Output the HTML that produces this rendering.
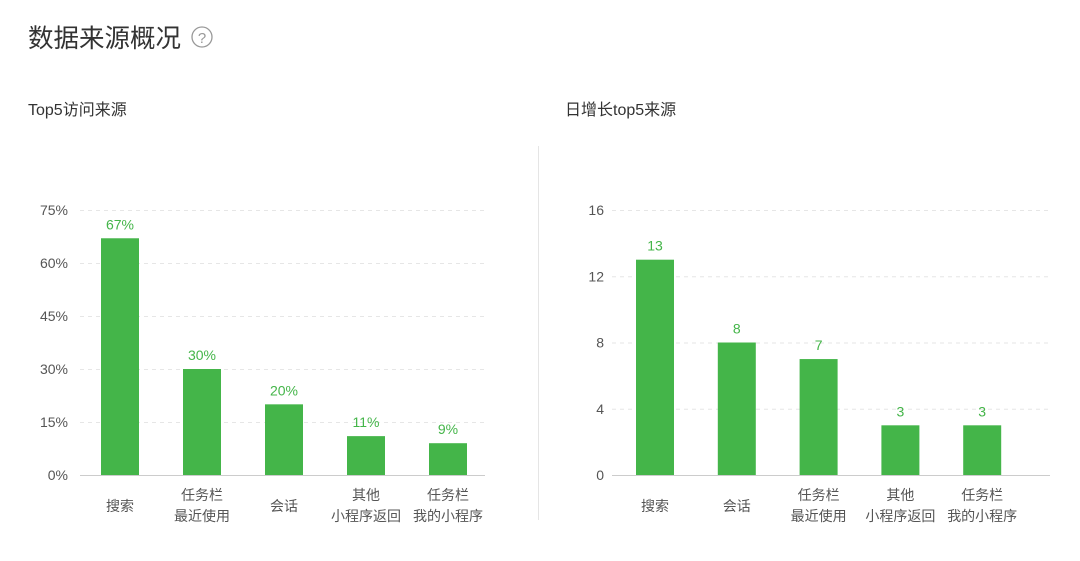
<!DOCTYPE html>
<html><head><meta charset="utf-8"><style>
body{margin:0;width:1080px;height:561px;background:#fff;overflow:hidden;font-family:"Liberation Sans","Noto Sans CJK SC",sans-serif;}
svg{position:absolute;left:0;top:0}
</style></head><body>
<svg id="s" width="1080" height="561">
<text x="28" y="47" font-size="25.5" fill="#333">数据来源概况</text>
<g><circle cx="202" cy="37" r="10" fill="none" stroke="#999" stroke-width="1.3"/><text x="202" y="43" font-size="15" fill="#999" text-anchor="middle">?</text></g>
<text x="28" y="115" font-size="16" fill="#333">Top5访问来源</text>
<text x="565" y="115" font-size="16" fill="#333">日增长top5来源</text>
<line x1="538.5" y1="146" x2="538.5" y2="520" stroke="#e5e5e5"/>
</svg>
<script>
const leftCategories=[["搜索"],["任务栏","最近使用"],["会话"],["其他","小程序返回"],["任务栏","我的小程序"]];
const leftValues=[67,30,20,11,9];
const leftTicks=[0,15,30,45,60,75];
const rightCategories=[["搜索"],["会话"],["任务栏","最近使用"],["其他","小程序返回"],["任务栏","我的小程序"]];
const rightValues=[13,8,7,3,3];
const rightTicks=[0,4,8,12,16];
const svg=document.getElementById('s');
const NS='http://www.w3.org/2000/svg';
function el(t,a,txt){const e=document.createElementNS(NS,t);for(const k in a)e.setAttribute(k,a[k]);if(txt!=null)e.textContent=txt;svg.appendChild(e);return e;}
function chart(prefix,cats,vals,ticks,max,suffix,x0,x1,axisX,firstCenter,step){
  const y0=475,yTop=210;
  const y=v=>y0-(v/max)*(y0-yTop);
  ticks.forEach(t=>{
    const l=el('line',{x1:x0,x2:x1,y1:y(t)+0.5,y2:y(t)+0.5,stroke:t===0?'#ccc':'#e6e6e6','stroke-dasharray':t===0?'':'4,4'});
    
    
    const tx=el('text',{x:axisX,y:y(t)+5,'font-size':14,fill:'#555','text-anchor':'end'},t+suffix);
    
    
  });
  vals.forEach((v,i)=>{
    const cx=firstCenter+i*step;
    const r=el('rect',{x:cx-19,y:y(v),width:38,height:y0-y(v),fill:'#44b549'});
    
    
    const lb=el('text',{x:cx,y:y(v)-9,'font-size':14,fill:'#44b549','text-anchor':'middle'},v+suffix);
    
    
    cats[i].forEach((c,j)=>{
      const ct=el('text',{x:cx,y:(cats[i].length===1?511:500)+j*21,'font-size':14,fill:'#555','text-anchor':'middle'},c);
      
      
    });
  });
}
chart('left',leftCategories,leftValues,leftTicks,75,'%',80,485,68,120,82);
chart('right',rightCategories,rightValues,rightTicks,16,'',612,1050,604,655,81.8);
</script>
</body></html>
